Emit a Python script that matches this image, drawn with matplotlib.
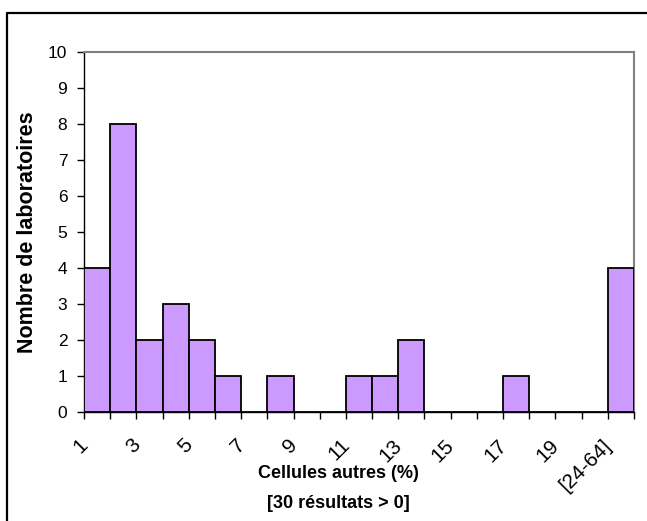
import matplotlib
matplotlib.use('Agg')
import numpy as np
import matplotlib.pyplot as plt
from matplotlib.lines import Line2D
from matplotlib.transforms import ScaledTranslation

plt.rcParams['font.family'] = ['Liberation Sans', 'DejaVu Sans']

# Données : nombre de laboratoires par classe (1, 2, ..., 20, [24-64])
classes = [str(i) for i in range(1, 21)] + ['[24-64]']
comptes = [4, 8, 2, 3, 2, 1, 0, 1, 0, 0, 1, 1, 2, 0, 0, 0, 1, 0, 0, 0, 4]
etiquettes = ['1', '3', '5', '7', '9', '11', '13', '15', '17', '19', '[24-64]']

fig = plt.figure(figsize=(6.47, 5.21), dpi=100)
ax = fig.add_axes([84 / 647, 1 - 412 / 521, (634 - 84) / 647, (412 - 52) / 521])

# Barres : chaque classe occupe un intervalle [k, k+1]
pos = np.arange(len(classes))
ax.bar(pos, comptes, width=1.0, align='edge', color='#CC99FF',
       edgecolor='black', linewidth=1.3, zorder=3)

ax.set_xlim(0, len(classes))
ax.set_ylim(0, 10)
ax.set_yticks(range(0, 11))

# Graduations en x aux limites des classes, étiquette une sur deux
bornes = np.arange(0, len(classes) + 1)
ax.set_xticks(bornes)
ax.set_xticklabels([])
ax.tick_params(axis='x', length=5, width=1, direction='out')
ax.tick_params(axis='y', length=5, width=1, direction='out', pad=7, labelsize=12.5)

# étiquettes inclinées, un peu décalées comme dans Excel
decal = ax.get_xaxis_transform() + ScaledTranslation(-6 / 100, -23.5 / 100, fig.dpi_scale_trans)
for i, lab in enumerate(etiquettes):
    ax.text(bornes[2 * i], 0, lab, transform=decal, rotation=45, ha='right',
            va='top', rotation_mode='anchor', fontsize=15, clip_on=False)

# Bordures
for s in ['top', 'right']:
    ax.spines[s].set_color('#808080')
    ax.spines[s].set_linewidth(1.5)
for s in ['left', 'bottom']:
    ax.spines[s].set_color('black')
    ax.spines[s].set_linewidth(1.0)

# Titres des axes
fig.text(28 / 647, 1 - 232 / 521, 'Nombre de laboratoires', rotation=90,
         ha='center', va='center', fontsize=15.5, fontweight='bold')
fig.text(338 / 647, 1 - 474 / 521, 'Cellules autres (%)',
         ha='center', va='center', fontsize=13, fontweight='bold')
fig.text(338 / 647, 1 - 503 / 521, '[30 résultats > 0]',
         ha='center', va='center', fontsize=13, fontweight='bold')

# Cadre extérieur (coupé à droite et en bas)
fig.add_artist(Line2D([7 / 647, 7 / 647, 1.0], [0.0, 1 - 13 / 521, 1 - 13 / 521],
                      transform=fig.transFigure, color='black', linewidth=1.6))

fig.savefig('out.png', dpi=100)
